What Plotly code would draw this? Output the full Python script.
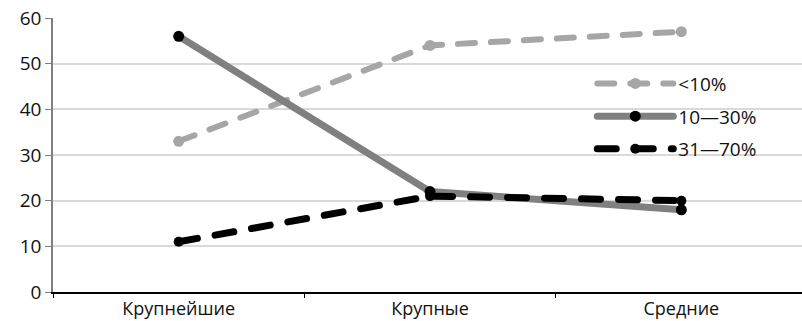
import plotly.graph_objects as go

categories = ["Крупнейшие", "Крупные", "Средние"]
series_names = ["<10%", "10—30%", "31—70%"]
s_lt10 = [33, 54, 57]
s_10_30 = [56, 22, 18]
s_31_70 = [11, 21, 20]
y_ticks = [0, 10, 20, 30, 40, 50, 60]

FONT = "Open Sans"

fig = go.Figure()
fig.add_trace(go.Scatter(
    x=categories, y=s_lt10, name=series_names[0], mode="lines+markers",
    line=dict(color="#a6a6a6", width=6, dash="17px,16px"),
    marker=dict(color="#a6a6a6", size=11),
    legendgroup="a",
))
fig.add_trace(go.Scatter(
    x=categories, y=s_10_30, name=series_names[1], mode="lines+markers",
    line=dict(color="#808080", width=7),
    marker=dict(color="#000000", size=11),
    legendgroup="b",
))
fig.add_trace(go.Scatter(
    x=categories, y=s_31_70, name=series_names[2], mode="lines+markers",
    line=dict(color="#000000", width=7, dash="19px,18px"),
    marker=dict(color="#000000", size=10),
    legendgroup="c",
))

fig.update_layout(
    width=802, height=321,
    margin=dict(l=53, r=0, t=18, b=29),
    paper_bgcolor="white", plot_bgcolor="white",
    font=dict(family=FONT, size=19, color="#111111"),
    showlegend=True,
    legend=dict(
        x=0.72, y=0.83, xanchor="left", yanchor="top",
        bgcolor="rgba(0,0,0,0)", font=dict(size=19, family=FONT),
        itemwidth=76, traceorder="grouped", tracegroupgap=5,
    ),
    xaxis=dict(
        type="category", range=[-0.5, 2.48], automargin=False,
        showgrid=False, showline=True, linecolor="#000000", linewidth=1.5,
        ticks="outside", tickson="boundaries", ticklen=4, tickcolor="#000000",
        tickfont=dict(size=18, family=FONT), zeroline=False,
    ),
    yaxis=dict(
        range=[0, 60], tickvals=y_ticks, showgrid=True, gridcolor="#d9d9d9", gridwidth=2,
        showline=True, linecolor="#7f7f7f", linewidth=1.5, automargin=False,
        ticks="outside", ticklen=6, tickcolor="#7f7f7f",
        tickfont=dict(size=19, family=FONT), zeroline=False,
    ),
)

post = """
document.body.style.margin = '0';
var gd = document.getElementById('{plot_id}');
function rc(){
  gd.querySelectorAll('.scatterlayer path.js-line, .legendlines path').forEach(function(p){
    p.style.strokeLinecap='round'; p.style.strokeLinejoin='round';
  });
}
rc();
gd.on('plotly_afterplot', rc);
"""
fig.write_html("out.html", post_script=post, config={"displayModeBar": False})
